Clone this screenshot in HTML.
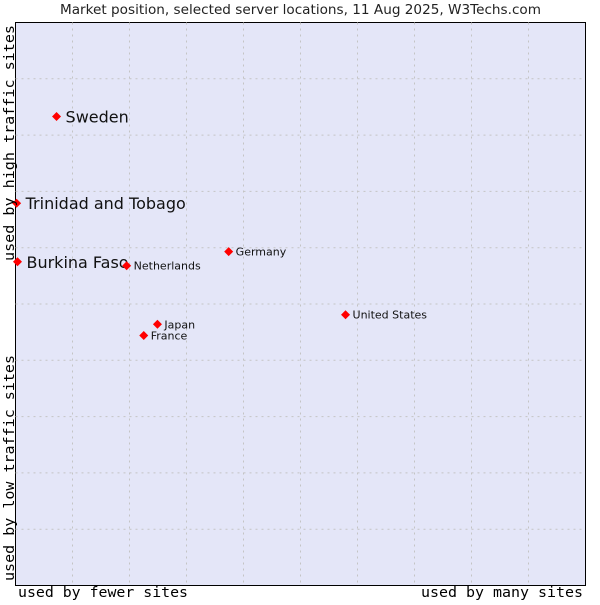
<!DOCTYPE html>
<html><head><meta charset="utf-8"><style>
body{margin:0;background:#fff;width:600px;height:600px;overflow:hidden}
text{font-family:"DejaVu Sans","Liberation Sans",sans-serif}
.mono{font-family:"DejaVu Sans Mono","Liberation Mono",monospace}
</style></head><body>
<svg id="chart" width="600" height="600" xmlns="http://www.w3.org/2000/svg">
<text x="60" y="14" font-size="13" fill="#222" textLength="481" lengthAdjust="spacingAndGlyphs">Market position, selected server locations, 11 Aug 2025, W3Techs.com</text>
<rect x="15.5" y="22.5" width="570" height="563" fill="#e4e6f8" stroke="#000" stroke-width="1"/>
<g id="grid"></g>
<g id="points"></g>
<text class="mono" x="18" y="597" font-size="14" fill="#000" textLength="170" lengthAdjust="spacingAndGlyphs">used by fewer sites</text>
<text class="mono" x="421" y="597" font-size="14" fill="#000" textLength="162" lengthAdjust="spacingAndGlyphs">used by many sites</text>
<text class="mono" transform="translate(14,581) rotate(-90)" font-size="14" fill="#000" textLength="226" lengthAdjust="spacingAndGlyphs">used by low traffic sites</text>
<text class="mono" transform="translate(14,261) rotate(-90)" font-size="14" fill="#000" textLength="236" lengthAdjust="spacingAndGlyphs">used by high traffic sites</text>
</svg>
<script>
const names=["Sweden","Trinidad and Tobago","Burkina Faso","Netherlands","Germany","United States","Japan","France"];
const xs=[7.2,0.2,0.35,19.5,37.4,57.9,24.9,22.5];
const ys=[83.3,67.9,57.5,56.8,59.3,48.1,46.4,44.4];
const big=[true,true,true,false,false,false,false,false];
const L=15.5,T=22.5,W=570,H=563;
const sx=v=>L+v/100*W, sy=v=>T+H-v/100*H;
const NS="http://www.w3.org/2000/svg";
const g=document.getElementById('grid'),p=document.getElementById('points');
for(let i=1;i<10;i++){
 let a=document.createElementNS(NS,'line');
 
 
 a.setAttribute('x1',sx(i*10));a.setAttribute('x2',sx(i*10));a.setAttribute('y1',T);a.setAttribute('y2',T+H);
 a.setAttribute('stroke','#c4c4c4');a.setAttribute('stroke-dasharray','2,4');g.appendChild(a);
 let b=document.createElementNS(NS,'line');
 
 
 b.setAttribute('y1',sy(i*10));b.setAttribute('y2',sy(i*10));b.setAttribute('x1',L);b.setAttribute('x2',L+W);
 b.setAttribute('stroke','#c4c4c4');b.setAttribute('stroke-dasharray','2,4');g.appendChild(b);
}
names.forEach((n,i)=>{
 const x=sx(xs[i]),y=sy(ys[i]);
 const d=document.createElementNS(NS,'path');
 
 
 d.setAttribute('d',`M${x} ${y-4.5}L${x+4.5} ${y}L${x} ${y+4.5}L${x-4.5} ${y}Z`);
 d.setAttribute('fill','#f00');p.appendChild(d);
 const t=document.createElementNS(NS,'text');
 
 
 t.setAttribute('x',x+(big[i]?9:7));t.setAttribute('y',y+(big[i]?6:4));
 t.setAttribute('font-size',big[i]?16:11);t.setAttribute('fill','#111');
 t.textContent=n;p.appendChild(t);
});
</script>
</body></html>
